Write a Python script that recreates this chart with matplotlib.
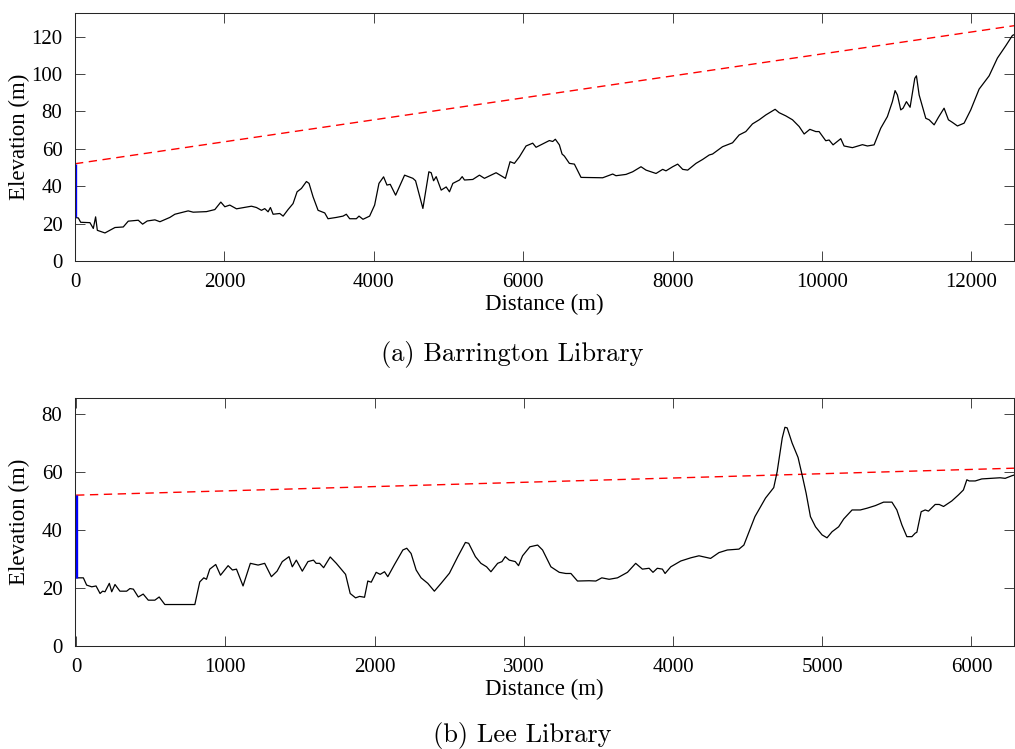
import matplotlib
matplotlib.use("Agg")
import matplotlib.pyplot as plt
import numpy as np

# (a) Barrington Library terrain profile
top_dist = [0, 45, 76, 200, 245, 276, 299, 401, 535, 646, 713, 847, 905, 967, 1070, 1137, 1270, 1337, 1515, 1582,
            1760, 1872, 1952, 2006, 2072, 2162, 2362, 2429, 2496, 2540, 2585, 2616, 2652, 2741, 2786, 2852, 2919, 2973,
            3031, 3098, 3133, 3187, 3254, 3343, 3387, 3499, 3588, 3632, 3677, 3766, 3802, 3855, 3944, 4011, 4069, 4131,
            4176, 4220, 4292, 4412, 4523, 4559, 4657, 4737, 4768, 4800, 4835, 4902, 4969, 5013, 5058, 5147, 5183, 5214,
            5325, 5414, 5481, 5637, 5691, 5762, 5824, 5882, 5949, 6038, 6127, 6172, 6350, 6395, 6430, 6484, 6520, 6551,
            6618, 6685, 6774, 7064, 7198, 7242, 7376, 7465, 7577, 7644, 7778, 7867, 7911, 8001, 8068, 8135, 8202, 8313,
            8402, 8491, 8535, 8668, 8802, 8891, 8980, 9069, 9159, 9248, 9372, 9426, 9515, 9605, 9694, 9761, 9837, 9917,
            9961, 10050, 10095, 10148, 10251, 10295, 10407, 10541, 10608, 10697, 10786, 10875, 10942, 10978, 11009,
            11054, 11085, 11130, 11179, 11242, 11264, 11300, 11344, 11389, 11434, 11501, 11558, 11634, 11692, 11746,
            11813, 11902, 11991, 12103, 12237, 12348, 12460, 12549, 12571]
top_elev = [23.3, 23, 20.7, 20.5, 17.4, 23.6, 16.4, 15, 17.9, 18.2, 21.3, 21.8, 19.7, 21.4, 22, 21, 23.3, 25, 26.8, 26.1,
            26.4, 27.5, 31.5, 29, 29.9, 27.9, 29.3, 28.6, 27.1, 28, 26.3, 28.6, 25, 25.4, 24, 27.5, 30.7, 37,
            38.8, 42.5, 41.5, 34.3, 27.1, 25.7, 22.6, 23.3, 24, 25, 22.6, 22.6, 24, 22.3, 24, 29.9, 41.5, 45,
            40.6, 41, 35.2, 45.9, 44.2, 42.9, 28.1, 47.7, 47.2, 42.9, 45.1, 37.9, 39.6, 37, 41.5, 43.3, 45.1, 43.3,
            43.6, 45.9, 44.2, 47.2, 45.9, 44.2, 53.1, 52.2, 55.7, 61.5, 63, 60.8, 64.4, 63.9, 65.1, 62.1, 57.2, 56.1,
            52.2, 51.8, 44.7, 44.5, 46.5, 45.6, 46.3, 47.7, 50.4, 48.6, 46.8, 49, 48.2, 50.4, 51.8, 49, 48.6, 52.2,
            54.3, 56.7, 57.2, 61.1, 63.2, 67.4, 69.2, 73.3, 75.5, 78.1, 81.1, 79.3, 77.6, 75.5, 71.9, 67.9, 70.4, 69.2,
            69.2, 64.3, 64.7, 62.1, 65.4, 61.5, 60.6, 62.2, 61.5, 62.1, 71, 77.2, 85.2, 91.1, 88.8,
            80.8, 81.7, 85.2, 82.2, 97.7, 99, 88.8, 82.6, 76.3, 75.5, 72.8, 76.8, 81.7, 75.5, 74.1,
            72.2, 73.7, 80.8, 91.9, 99, 108.5, 115.1, 120.6, 121]
top_los = [52, 125.8]
top_mast = [23.3, 52]
top_xmax = 12570

# (b) Lee Library terrain profile
bot_dist = [0, 49, 71, 105, 134, 161, 178, 194, 223, 239, 261, 294, 339, 361, 384, 417, 450, 484, 528, 557, 595, 796,
            829, 856, 874, 896, 936, 968, 1019, 1048, 1075, 1119, 1168, 1220, 1264, 1309, 1347, 1382, 1427, 1449, 1476,
            1516, 1554, 1591, 1609, 1632, 1659, 1703, 1744, 1806, 1837, 1873, 1900, 1933, 1955, 1978, 2011, 2038, 2067,
            2089, 2134, 2190, 2216, 2245, 2279, 2312, 2357, 2401, 2446, 2502, 2558, 2609, 2631, 2676, 2713, 2751, 2780,
            2825, 2854, 2876, 2903, 2943, 2965, 2992, 3041, 3093, 3126, 3182, 3238, 3282, 3316, 3360, 3438, 3483, 3523,
            3572, 3628, 3695, 3750, 3795, 3840, 3866, 3895, 3929, 3947, 3985, 4052, 4119, 4174, 4252, 4308, 4364, 4442,
            4475, 4549, 4620, 4675, 4698, 4732, 4750, 4765, 4798, 4838, 4865, 4892, 4921, 4955, 4999, 5032, 5066, 5110,
            5144, 5200, 5255, 5300, 5356, 5411, 5467, 5500, 5534, 5567, 5601, 5623, 5634, 5663, 5690, 5712, 5757, 5784,
            5813, 5868, 5913, 5946, 5969, 5985, 6025, 6069, 6136, 6192, 6226, 6271, 6290]
bot_elev = [23.5, 23.5, 21, 20.4, 20.7, 18.1, 18.9, 18.7, 21.6, 18.7, 21.2, 18.9, 18.9, 19.8, 19.6, 16.9, 17.9, 15.8,
            15.8, 16.9, 14.3, 14.3, 22.1, 23.5, 23, 26.5, 28.1, 24.4, 27.7, 26.2, 26.5, 20.7, 28.5, 27.9, 28.5, 23.9,
            25.8, 29.1, 30.8, 27.3, 29.6, 25.8, 29.1, 29.6, 28.5, 28.5, 27, 30.7, 28.5, 24.7, 18.1, 16.6, 17.1, 16.8,
            22.4, 22, 25.4, 24.7, 25.6, 23.9, 28.1, 33.1, 33.7, 31.9, 26.2, 23.5, 21.6, 18.9, 21.6, 25.1, 30.8, 35.7,
            35.4, 30.8, 28.5, 27.3, 25.6, 28.5, 29.1, 30.8, 29.6, 29.1, 27.7, 31.1, 34.2, 34.8, 33.1, 27.3, 25.4, 25,
            25, 22.4, 22.5, 22.4, 23.5, 23, 23.5, 25.4, 28.5, 26.5, 26.8, 25.4, 26.8, 26.5, 25, 27.3, 29.3, 30.4, 31.1,
            30.2, 32.2, 33.1, 33.4, 34.8, 44.6, 51, 54.6, 60.1, 71.7, 75.4, 75.2, 70, 65, 59, 52.7, 44.6, 41.1, 38.3,
            37.3, 39.4, 41.1, 43.8, 46.9, 46.9, 47.5, 48.4, 49.6, 49.6, 46.9, 41.7, 37.7, 37.7, 38.9, 39.2, 46.3, 46.9,
            46.5, 48.8, 48.8, 48.1, 50, 52.1, 53.8, 57.3, 56.9, 56.9, 57.6, 57.8, 58, 57.8, 58.7, 59]
bot_los = [52, 61.3]
bot_mast = [23.5, 52]
bot_xmax = 6285

plt.rcParams['font.family'] = 'Liberation Serif'
plt.rcParams['font.size'] = 15

fig = plt.figure(figsize=(10.15, 7.49), dpi=100)
ax1 = fig.add_axes([75 / 1015, 1 - 261 / 749, 939 / 1015, 248 / 749])
ax2 = fig.add_axes([75 / 1015, 1 - 646 / 749, 939 / 1015, 248 / 749])


def style(ax, xmin, xmax, ymax, xticks, yticks):
    ax.set_xlim(xmin, xmax)
    ax.set_ylim(0, ymax)
    ax.set_xticks(xticks)
    ax.set_yticks(yticks)
    ax.tick_params(direction='in', length=7, width=0.6, color='#262626', top=True, right=True,
                   labelsize=15, pad=9)
    for s in ax.spines.values():
        s.set_linewidth(0.75)
        s.set_color('#262626')
    ax.set_xlabel('Distance (m)', fontsize=16.5, labelpad=1)
    ax.set_ylabel('Elevation (m)', fontsize=16.5)
    ax.yaxis.set_label_coords(-0.048, 0.5)


ax1.plot([0, top_xmax], top_los, color='red', linestyle='--', linewidth=1.0, dashes=(6, 4))
ax1.plot(top_dist, top_elev, color='black', linewidth=0.9)
ax1.plot([0, 0], top_mast, color='blue', linewidth=2.4, solid_capstyle='butt')
style(ax1, 0, top_xmax, 132.6, np.arange(0, 12001, 2000), np.arange(0, 121, 20))

ax2.plot([0, bot_xmax], bot_los, color='red', linestyle='--', linewidth=1.0, dashes=(6, 4))
ax2.plot(bot_dist, bot_elev, color='black', linewidth=0.9)
ax2.plot([0, 0], bot_mast, color='blue', linewidth=2.4, solid_capstyle='butt')
style(ax2, -7, bot_xmax, 85.5, np.arange(0, 6001, 1000), np.arange(0, 81, 20))

fig.text(0.505, 1 - 361 / 749, '(a) Barrington Library', family='cmr10', fontsize=19, ha='center', va='baseline')
fig.text(0.515, 1 - 742 / 749, '(b) Lee Library', family='cmr10', fontsize=19, ha='center', va='baseline')

fig.savefig('out.png', dpi=100)
